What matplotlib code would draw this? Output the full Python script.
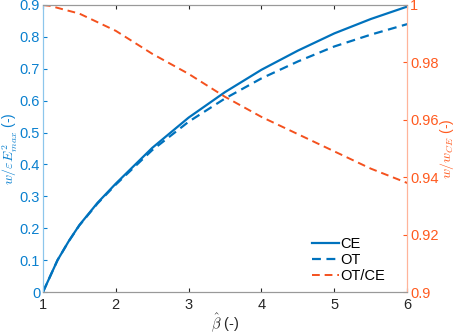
import matplotlib
matplotlib.use("Agg")
import matplotlib.pyplot as plt

# ============================================================
# DATA
# ============================================================

beta = [1.0, 1.1, 1.2, 1.35, 1.5, 1.75, 2.0, 2.5, 3.0, 3.5, 4.0, 4.5, 5.0, 5.5, 6.0]
ce = [0.0, 0.05, 0.10, 0.158, 0.21, 0.28, 0.34, 0.452, 0.547, 0.627, 0.697, 0.757, 0.811, 0.856, 0.895]
ot = [0.0, 0.05, 0.10, 0.158, 0.209, 0.278, 0.337, 0.445, 0.534, 0.607, 0.67, 0.723, 0.77, 0.807, 0.84]
ratio = [1.0, 0.9997, 0.999, 0.998, 0.997, 0.994, 0.991, 0.983, 0.976, 0.968, 0.961, 0.955, 0.949, 0.943, 0.938]

# ============================================================
# STYLE
# ============================================================

plt.rcParams["font.family"] = ["Liberation Sans", "DejaVu Sans"]
plt.rcParams["mathtext.fontset"] = "cm"
plt.rcParams["font.size"] = 10.5

BLUE = "#0072BD"
BLUE_TXT = "#0A80CF"
RED = "#F4511E"
RED_TXT = "#FF5A1F"

fig = plt.figure(figsize=(4.57, 3.33), dpi=100)
ax = fig.add_axes([0.094, 0.123, 0.797, 0.862])
ax2 = ax.twinx()

l1, = ax.plot(beta, ce, color=BLUE, lw=1.6, label="CE")
l2, = ax.plot(beta, ot, color=BLUE, lw=1.6, ls=(0, (4, 2.5)), label="OT")
l3, = ax2.plot(beta, ratio, color=RED, lw=1.4, ls=(0, (4, 2.5)), label="OT/CE")

ax.set_xlim(1, 6)
ax.set_ylim(0, 0.9)
ax2.set_ylim(0.9, 1.0)
ax.set_xticks([1, 2, 3, 4, 5, 6])
ax.set_yticks([0, 0.1, 0.2, 0.3, 0.4, 0.5, 0.6, 0.7, 0.8, 0.9])
ax.set_yticklabels(["0", "0.1", "0.2", "0.3", "0.4", "0.5", "0.6", "0.7", "0.8", "0.9"])
ax2.set_yticks([0.9, 0.92, 0.94, 0.96, 0.98, 1.0])
ax2.set_yticklabels(["0.9", "0.92", "0.94", "0.96", "0.98", "1"])

ax.tick_params(axis="x", direction="in", top=True, colors="#262626", length=3, pad=4)
ax.tick_params(axis="y", direction="in", colors=BLUE_TXT, length=3, pad=2)
ax2.tick_params(axis="y", direction="in", colors=RED_TXT, length=3, pad=2)

for a in (ax, ax2):
    a.spines["top"].set_color("#999999")
    a.spines["bottom"].set_color("#999999")
    a.spines["left"].set_color("#8CC6EC")
    a.spines["right"].set_color("#FFB49A")
    for s in a.spines.values():
        s.set_linewidth(0.8)

ax.set_xlabel(r"$\hat{\beta}$ (-)", color="#262626", labelpad=0, fontsize=10.5)
ax.set_ylabel(r"$w/\varepsilon E_{max}^{2}$ (-)", color=BLUE_TXT, labelpad=0, fontsize=10)
ax2.set_ylabel(r"$w/w_{CE}$ (-)", color=RED_TXT, labelpad=0, fontsize=10)

ax2.legend([l1, l2, l3], ["CE", "OT", "OT/CE"], loc="lower right",
           bbox_to_anchor=(0.975, -0.015), frameon=False, handlelength=1.8,
           handletextpad=0.1, labelspacing=0.15, fontsize=10.5)

fig.savefig("out.png", dpi=100)
